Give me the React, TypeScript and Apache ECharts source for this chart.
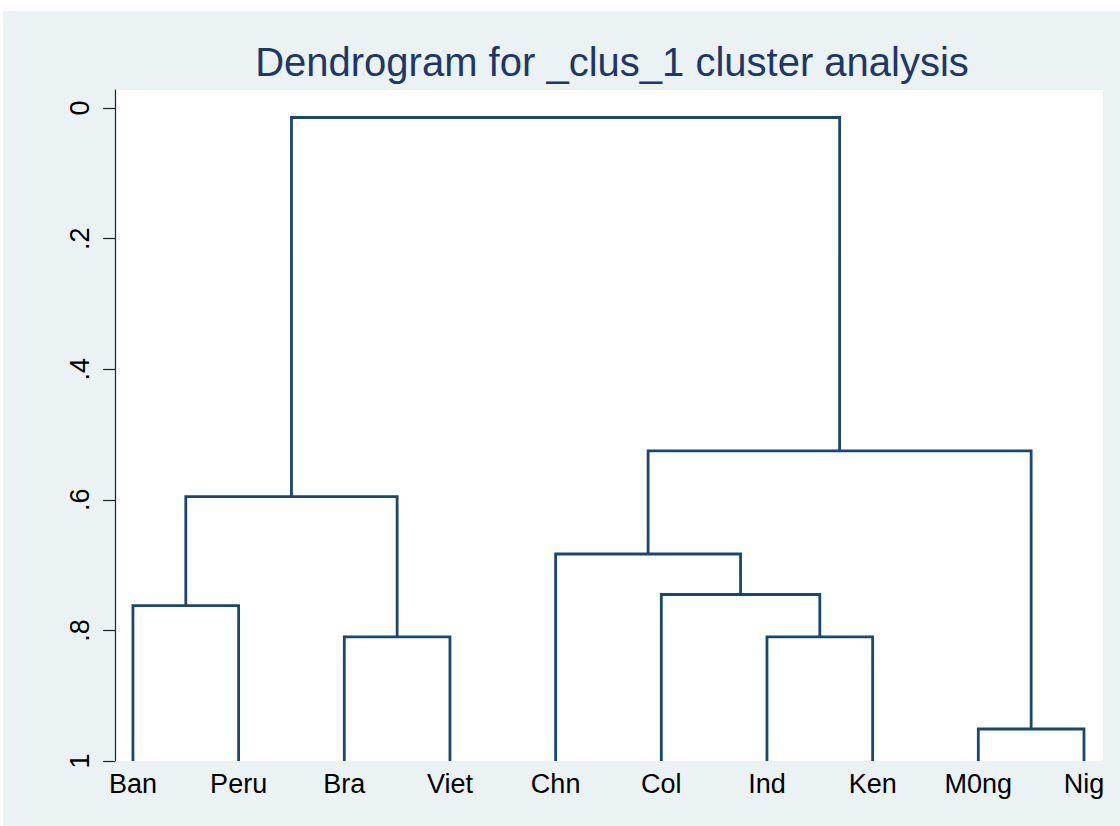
import React, { useEffect, useRef } from "react";
import * as echarts from "echarts";

// Leaves (bottom labels), left to right
const leaves: string[] = ["Ban", "Peru", "Bra", "Viet", "Chn", "Col", "Ind", "Ken", "M0ng", "Nig"];
const leafHeight = 1;

// Merges: node ids 0..9 are leaves; merge k creates node 10+k
const mergeLeft: number[] = [0, 2, 6, 8, 5, 4, 10, 15, 16];
const mergeRight: number[] = [1, 3, 7, 9, 12, 14, 11, 13, 17];
const mergeHeight: number[] = [0.762, 0.81, 0.81, 0.951, 0.745, 0.683, 0.595, 0.525, 0.0145];

// Y axis ticks
const yTickValues: number[] = [0, 0.2, 0.4, 0.6, 0.8, 1];
const yTickLabels: string[] = ["0", ".2", ".4", ".6", ".8", "1"];

const title = "Dendrogram for _clus_1 cluster analysis";

const LINE_COLOR = "#1a476f";
const FONT = "Arial, 'Liberation Sans', Helvetica, sans-serif";

function buildSeries() {
  const nodeX: number[] = leaves.map((_, i) => i + 1);
  const nodeH: number[] = leaves.map(() => leafHeight);
  const series: any[] = [];
  for (let k = 0; k < mergeLeft.length; k++) {
    const l = mergeLeft[k];
    const r = mergeRight[k];
    const h = mergeHeight[k];
    series.push({
      type: "line",
      data: [
        [nodeX[l], nodeH[l]],
        [nodeX[l], h],
        [nodeX[r], h],
        [nodeX[r], nodeH[r]],
      ],
      symbol: "none",
      silent: true,
      lineStyle: { color: LINE_COLOR, width: 2.8, join: "miter", cap: "butt" },
    });
    nodeX.push((nodeX[l] + nodeX[r]) / 2);
    nodeH.push(h);
  }
  return series;
}

export default function App() {
  const ref = useRef<HTMLDivElement>(null);
  useEffect(() => {
    if (!ref.current) return;
    const chart = echarts.init(ref.current, null, { renderer: "svg" });
    chart.setOption({
      animation: false,
      backgroundColor: "#eaf2f3",
      textStyle: { fontFamily: FONT },
      title: {
        text: title,
        left: 607,
        textAlign: "center",
        top: 37,
        textStyle: { fontFamily: FONT, fontSize: 40, fontWeight: "normal", color: "#1f3765" },
      },
      graphic: [
        { type: "rect", shape: { x: 0, y: 0, width: 1120, height: 11 }, style: { fill: "#ffffff" }, silent: true },
        { type: "rect", shape: { x: 0, y: 0, width: 3, height: 826 }, style: { fill: "#ffffff" }, silent: true },
      ],
      grid: {
        left: 115,
        right: 17,
        top: 90,
        bottom: 65,
        show: true,
        backgroundColor: "#ffffff",
        borderWidth: 0,
        containLabel: false,
      },
      xAxis: {
        type: "value",
        min: 0.83,
        max: 10.18,
        axisLine: { show: false },
        axisTick: { show: false },
        splitLine: { show: false },
        axisLabel: {
          customValues: leaves.map((_, i) => i + 1),
          formatter: (v: number) => leaves[Math.round(v) - 1] ?? "",
          fontSize: 27,
          color: "#000000",
          margin: 9,
          fontFamily: FONT,
        },
      },
      yAxis: {
        type: "value",
        inverse: true,
        min: -0.0276,
        max: 1,
        axisLine: { show: true, lineStyle: { color: "#222222", width: 1.2 } },
        axisTick: {
          show: true,
          customValues: yTickValues,
          length: 12,
          lineStyle: { color: "#222222", width: 1.2 },
        },
        splitLine: { show: false },
        axisLabel: {
          customValues: yTickValues,
          formatter: (v: number) => {
            const i = yTickValues.findIndex((t) => Math.abs(t - v) < 1e-6);
            return i >= 0 ? yTickLabels[i] : "";
          },
          rotate: 90,
          fontSize: 27,
          color: "#000000",
          margin: 22,
          fontFamily: FONT,
        },
      },
      series: buildSeries(),
    });
    return () => chart.dispose();
  }, []);
  return (
    <div
      ref={ref}
      style={{ position: "fixed", left: 0, top: 0, width: 1120, height: 826 }}
    />
  );
}
